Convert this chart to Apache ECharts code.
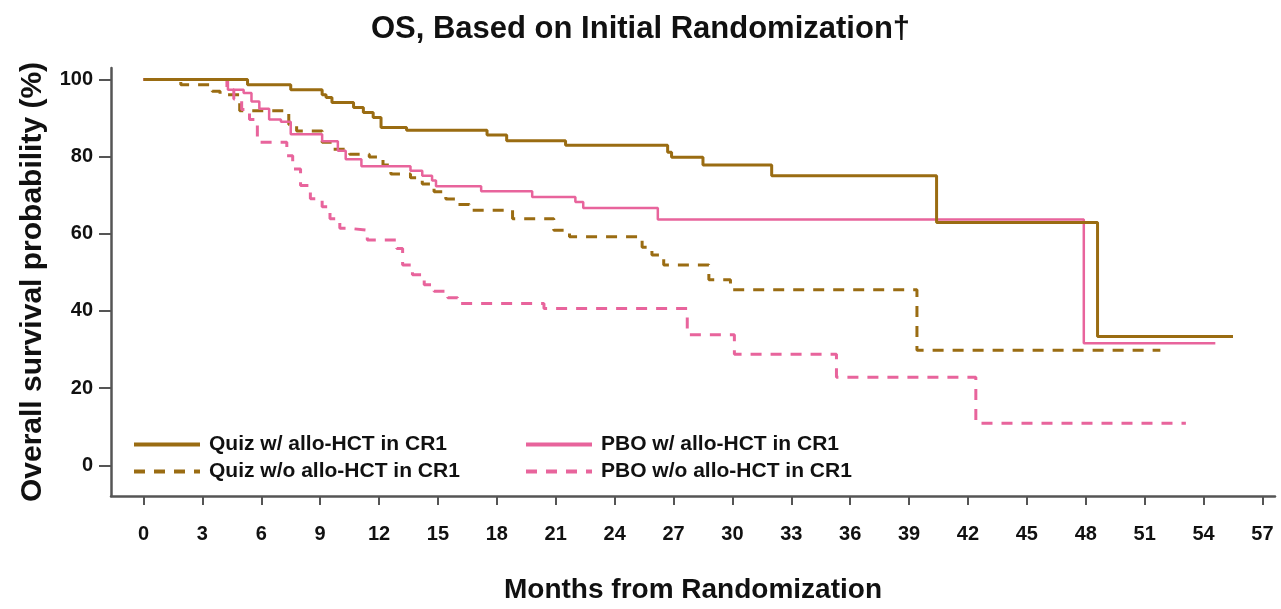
<!DOCTYPE html>
<html><head><meta charset="utf-8">
<script src="https://cdn.jsdelivr.net/npm/echarts@6/dist/echarts.min.js"></script>
<style>html,body{margin:0;padding:0;background:#fff}#c{width:1281px;height:609px}</style>
</head><body><div id="c"></div>
<script>
// ---- data (months, overall survival %) ----
const seriesNames = ['Quiz w/ allo-HCT in CR1', 'Quiz w/o allo-HCT in CR1', 'PBO w/ allo-HCT in CR1', 'PBO w/o allo-HCT in CR1'];

const quizWithT = [0, 5.3, 7.5, 9.1, 9.3, 9.6, 10.7, 11.2, 11.7, 12.1, 13.4, 17.5, 18.5, 21.5, 26.7, 26.9, 28.5, 32.0, 40.4, 48.6, 55.5];
const quizWithV = [100, 98.6, 97.3, 96, 95.3, 94, 92.7, 91.4, 90.1, 87.5, 86.8, 85.6, 84.1, 82.9, 81.1, 79.8, 77.8, 75.0, 62.9, 33.4, 33.4];

const quizWithoutT = [0, 1.9, 3.5, 3.9, 4.9, 7.4, 7.8, 9.1, 9.6, 10.5, 11.5, 12.2, 12.6, 13.6, 14.2, 14.8, 15.4, 16.0, 16.6, 18.8, 20.9, 21.7, 25.4, 25.9, 26.5, 28.8, 29.9, 39.4, 51.8];
const quizWithoutV = [100, 98.6, 96.9, 96, 91.9, 88.3, 86.6, 83.7, 81.9, 80.6, 79.9, 77.8, 75.5, 74.5, 72.9, 70.9, 69, 67.6, 66.1, 63.9, 60.9, 59.2, 56.5, 54.5, 51.9, 48.1, 45.5, 29.8, 29.8];

const pboWithT = [0, 4.3, 5.1, 5.5, 5.9, 6.4, 7.0, 7.5, 9.1, 9.9, 10.3, 11.1, 13.6, 14.2, 14.7, 14.9, 17.2, 19.8, 22.0, 22.4, 26.2, 47.9, 54.6];
const pboWithV = [100, 97.3, 96.5, 94.3, 92.4, 89.6, 89.0, 85.8, 84, 81.5, 79.3, 77.5, 76.3, 75, 73.8, 72.3, 71, 69.5, 68.2, 66.7, 63.7, 31.6, 31.6];

const pboWithoutT = [0, 4.25, 4.6, 5.0, 5.4, 5.8, 7.3, 7.6, 8.0, 8.5, 9.1, 9.5, 10.0, 10.5, 11.4, 12.9, 13.2, 13.7, 14.3, 14.8, 15.5, 16.0, 20.4, 27.7, 30.1, 35.3, 42.4, 53.1];
const pboWithoutV = [100, 97.3, 94.9, 92.2, 89.6, 83.7, 80.2, 76.8, 72.5, 69.1, 67.0, 63.9, 61.4, 60.9, 58.4, 56.2, 51.9, 49.4, 46.8, 45.1, 43.4, 41.9, 40.6, 33.8, 28.8, 22.8, 10.9, 10.9];

const xTicks = [0, 3, 6, 9, 12, 15, 18, 21, 24, 27, 30, 33, 36, 39, 42, 45, 48, 51, 54, 57];
const yTicks = [0, 20, 40, 60, 80, 100];

// ---- chart ----
const FONT = "'Liberation Sans', Arial, sans-serif";
const GOLD = '#9a6c12';
const PINK = '#e8649c';
function pairs(t, v) { return t.map((x, i) => [x, v[i]]); }

const chart = echarts.init(document.getElementById('c'), null, { renderer: 'canvas' });

function kmSeries(name, t, v, color, width, dashed) {
  return {
    name: name, type: 'line', step: 'end', symbol: 'none', showSymbol: false,
    data: pairs(t, v), animation: false, z: dashed ? 2 : 3,
    itemStyle: { color: color },
    lineStyle: { color: color, width: width, type: dashed ? [11, 9] : 'solid' }
  };
}

const legendText = { fontFamily: FONT, fontWeight: 'bold', fontSize: 21, color: '#111', padding: [0, 0, 0, 4] };
const legendCommon = {
  orient: 'vertical', top: 434, itemWidth: 66, itemHeight: 20, itemGap: 6, padding: 0,
  lineStyle: { width: 4 }, itemStyle: { opacity: 0, borderWidth: 0 },
  textStyle: legendText, selectedMode: false
};

chart.setOption({
  backgroundColor: '#fff',
  animation: false,
  title: {
    text: 'OS, Based on Initial Randomization\u2020',
    left: 'center', top: 9, padding: [5, 5, 5, 17],
    textStyle: { fontFamily: FONT, fontWeight: 'bold', fontSize: 31, color: '#111' }
  },
  grid: { left: 111, right: 6, top: 68, bottom: 109 },
  legend: [
    Object.assign({ data: [seriesNames[0], seriesNames[1]], left: 132 }, legendCommon),
    Object.assign({ data: [seriesNames[2], seriesNames[3]], left: 524 }, legendCommon)
  ],
  xAxis: {
    type: 'value', min: -1.656, max: 57.64,
    name: 'Months from Randomization', nameLocation: 'middle', nameGap: 80,
    nameTextStyle: { fontFamily: FONT, fontWeight: 'bold', fontSize: 28, color: '#111' },
    axisLine: { show: true, onZero: false, lineStyle: { color: '#555', width: 2.5 } },
    axisTick: { show: true, customValues: xTicks, length: 9, lineStyle: { color: '#555', width: 2 } },
    axisLabel: { customValues: xTicks, margin: 28, fontFamily: FONT, fontWeight: 'bold', fontSize: 20, color: '#111' },
    splitLine: { show: false }
  },
  yAxis: {
    type: 'value', min: -7.96, max: 102.95,
    name: 'Overall survival probability (%)', nameLocation: 'middle', nameGap: 63, nameRotate: 90,
    nameTextStyle: { fontFamily: FONT, fontWeight: 'bold', fontSize: 30, color: '#111' },
    axisLine: { show: true, onZero: false, lineStyle: { color: '#555', width: 2.5 } },
    axisTick: { show: true, customValues: yTicks, length: 12, lineStyle: { color: '#555', width: 2 } },
    axisLabel: { customValues: yTicks, margin: 18, fontFamily: FONT, fontWeight: 'bold', fontSize: 20, color: '#111' },
    splitLine: { show: false }
  },
  series: [
    kmSeries(seriesNames[1], quizWithoutT, quizWithoutV, GOLD, 3, true),
    kmSeries(seriesNames[3], pboWithoutT, pboWithoutV, PINK, 3, true),
    kmSeries(seriesNames[2], pboWithT, pboWithV, PINK, 2.5, false),
    kmSeries(seriesNames[0], quizWithT, quizWithV, GOLD, 3, false)
  ]
});
</script>
</body></html>
